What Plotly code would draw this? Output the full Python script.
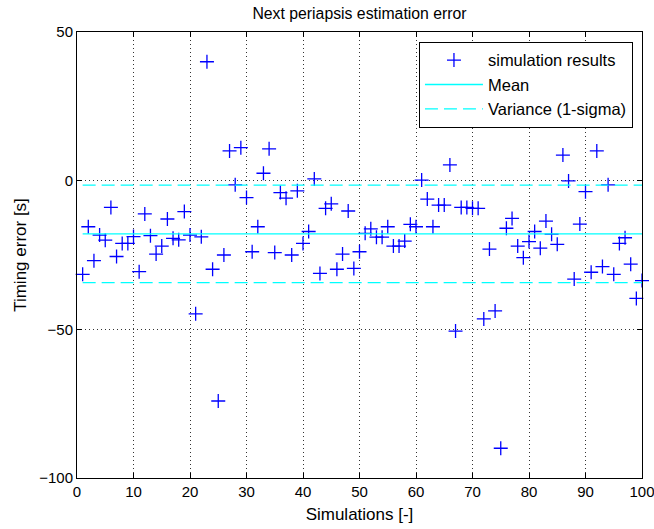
import plotly.graph_objects as go

sim = list(range(1, 101))
timing_error = [
    -31.5, -15.5, -26.9, -18.3, -20.0, -9.0, -25.5, -21.1, -21.1, -18.8,
    -30.6, -11.2, -18.5, -24.7, -22.0, -12.9, -19.4, -19.9, -10.4, -18.3,
    -44.8, -18.9, 40.0, -29.8, -74.1, -25.0, 10.0, -1.4, 11.1, -5.7,
    -23.9, -15.5, 2.5, 10.7, -24.2, -4.0, -5.9, -25.0, -3.4, -21.1,
    -17.1, 0.6, -31.2, -9.3, -7.8, -29.8, -24.7, -10.2, -29.5, -23.9,
    -17.7, -16.2, -19.0, -19.0, -15.5, -22.0, -22.0, -20.3, -14.7, -15.5,
    0.2, -6.2, -15.5, -8.2, -8.2, 5.3, -50.6, -9.0, -9.0, -9.3,
    -9.3, -46.5, -23.0, -43.8, -90.0, -16.0, -12.7, -22.0, -25.9, -20.5,
    -17.1, -22.7, -13.6, -18.0, -21.4, 8.6, -0.1, -33.1, -14.6, -3.7,
    -30.8, 10.0, -28.9, -1.4, -31.5, -21.1, -19.2, -28.1, -39.6, -33.6,
]
mean_value = -17.9
sigma_value = 16.4
line_x = [1, 100]

x_ticks = list(range(0, 101, 10))
y_ticks = [-100, -50, 0, 50]

FONT = "Liberation Sans, Arial, sans-serif"
NARROW = "Liberation Sans Narrow, Arial Narrow, sans-serif"

fig = go.Figure()
fig.add_trace(go.Scatter(
    x=sim, y=timing_error, mode="markers", name="simulation results",
    cliponaxis=False,
    marker=dict(symbol="cross-thin", size=10, color="#0000ff",
                line=dict(color="#0000ff", width=1.3)),
))
fig.add_trace(go.Scatter(
    x=line_x, y=[mean_value, mean_value], mode="lines", name="Mean",
    line=dict(color="#00ffff", width=1.3),
))
fig.add_trace(go.Scatter(
    x=[line_x[0], line_x[1], None, line_x[0], line_x[1]],
    y=[mean_value + sigma_value, mean_value + sigma_value, None,
       mean_value - sigma_value, mean_value - sigma_value],
    mode="lines", name="Variance (1-sigma)",
    line=dict(color="#00ffff", width=1.3, dash="13px,6px"),
))

axis_common = dict(
    showline=True, linecolor="black", linewidth=1, mirror="ticks",
    ticks="inside", ticklen=5, tickcolor="black",
    showgrid=True, gridcolor="#333333", gridwidth=1, griddash="1px,3px",
    zeroline=False, automargin=False,
    tickfont=dict(family=FONT, size=15, color="black"),
)

fig.update_xaxes(range=[-0.0001, 100.0001], tickvals=x_ticks, ticktext=[str(v) for v in x_ticks],
                 ticklabeloverflow="allow",
                 title=dict(text="Simulations [-]", font=dict(family=FONT, size=17, color="black"), standoff=9),
                 **axis_common)
fig.update_yaxes(range=[-100, 50], tickvals=y_ticks,
                 title=dict(text="Timing error [s]", font=dict(family=FONT, size=17, color="black"), standoff=8),
                 **axis_common)

fig.update_layout(
    width=654, height=529,
    margin=dict(l=77, r=12, t=32, b=51, autoexpand=False),
    paper_bgcolor="white", plot_bgcolor="white",
    title=dict(text="Next periapsis estimation error", x=0.5 * (77 + 642) / 654, xanchor="center",
               y=1 - 13 / 529, yref="container", yanchor="middle",
               font=dict(family=NARROW, size=15.8, color="black")),
    showlegend=True,
    legend=dict(x=0.984, y=0.978, xanchor="right", yanchor="top",
                bgcolor="white", bordercolor="black", borderwidth=1,
                font=dict(family=FONT, size=16.5, color="black"),
                itemwidth=58, tracegroupgap=0),
)

fig.write_html("out.html")
